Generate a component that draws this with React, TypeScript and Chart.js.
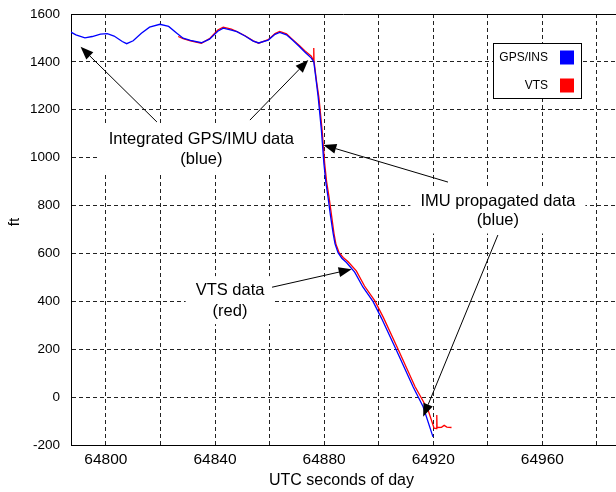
import React, { useEffect, useRef } from 'react';
import { Chart, registerables } from 'chart.js';

Chart.register(...registerables);

// ---- Data (UTC seconds of day, altitude in ft) ----
const blueTime = [
  64787.2, 64789, 64792.3, 64795, 64798, 64800.5, 64803, 64806, 64807.6, 64810,
  64813, 64816, 64819.8, 64823, 64826, 64828.3, 64831, 64835, 64838, 64841,
  64843, 64846, 64848, 64851, 64854, 64856, 64859.5, 64862, 64863.7, 64866.2,
  64868.5, 64871, 64873, 64875.3, 64876.2, 64877, 64877.8, 64879, 64879.9, 64880.6,
  64881.4, 64882.3, 64883.3, 64884, 64885.1, 64886.5, 64888.2, 64891.2, 64894.2, 64897.9,
  64901, 64906.5, 64912.6, 64916.3, 64919.9,
];
const blueFt = [
  1524, 1513, 1500, 1506, 1516, 1518, 1508, 1485, 1476, 1488,
  1520, 1545, 1557, 1548, 1520, 1499, 1490, 1480, 1495, 1528,
  1541, 1533, 1526, 1508, 1487, 1479, 1491, 1515, 1523, 1513,
  1490, 1463, 1440, 1416, 1401, 1330, 1255, 1115, 977, 900,
  837, 760, 684, 640, 603, 580, 562, 522, 460, 400,
  330, 196, 43, -40, -166,
];
const redTime = [
  64826.5, 64828.3, 64831, 64835, 64838, 64841, 64843, 64846, 64848, 64851,
  64854, 64856, 64859.5, 64862, 64863.7, 64866.2, 64868.5, 64871, 64873, 64875.3,
  64876.0, 64876.2, 64876.3, 64877.2, 64878.1, 64879.3, 64880.2, 64880.9, 64881.8, 64882.7,
  64883.6, 64884.3, 64885.5, 64887, 64888.8, 64891.8, 64894.8, 64898.6, 64901.7, 64907.2,
  64913.3, 64918.1, 64920.3, 64921.2, 64921.3, 64921.4, 64923, 64924, 64925, 64926.7,
];
const redFt = [
  1506, 1497, 1488, 1478, 1497, 1533, 1545, 1537, 1527, 1509,
  1488, 1478, 1493, 1518, 1527, 1517, 1493, 1468, 1446, 1424,
  1408, 1458, 1402, 1320, 1250, 1110, 975, 900, 835, 760,
  684, 640, 603, 583, 565, 527, 464, 402, 333, 198,
  44, -54, -130, -131, -75, -127, -126, -118, -125, -127,
];

const seriesLabels = ['GPS/INS', 'VTS'];
const seriesColors = ['#0000ff', '#ff0000'];

const xMin = 64787.2;
const xMax = 64987;
const xGridTicks = [64800, 64820, 64840, 64860, 64880, 64900, 64920, 64940, 64960, 64980];
const xLabelTicks = [64800, 64840, 64880, 64920, 64960];
const yMin = -200;
const yMax = 1600;
const yStep = 200;

const xTitle = 'UTC seconds of day';
const yTitle = 'ft';

// Annotations: text (line centres in data coords) and arrows (tail -> tip in data coords)
const annoTexts = [
  { lines: ['Integrated GPS/IMU data', '(blue)'], t: 64835.0, v: 1076, gap: 19.5 },
  { lines: ['IMU propagated data', '(blue)'], t: 64943.7, v: 819, gap: 19.5 },
  { lines: ['VTS data', '(red)'], t: 64845.5, v: 447, gap: 21 },
];
const annoArrows = [
  { t0: 64818.7, v0: 1149, t1: 64790.7, v1: 1463 },
  { t0: 64852.8, v0: 1157, t1: 64874.2, v1: 1408 },
  { t0: 64925.4, v0: 898, t1: 64879.7, v1: 1053 },
  { t0: 64943.7, v0: 677, t1: 64916.3, v1: -82 },
  { t0: 64860.9, v0: 459, t1: 64890.1, v1: 534 },
];

const FONT = '"Liberation Sans", Arial, Helvetica, sans-serif';

const overlayPlugin = {
  id: 'overlay',
  afterDatasetsDraw(chart: any) {
    const { ctx, chartArea, scales } = chart;
    const xs = scales.x;
    const ys = scales.y;
    ctx.save();

    // top border of axes box
    ctx.strokeStyle = '#000';
    ctx.lineWidth = 1;
    ctx.setLineDash([]);
    ctx.beginPath();
    ctx.moveTo(chartArea.left, Math.round(chartArea.top) + 0.5);
    ctx.lineTo(chartArea.right, Math.round(chartArea.top) + 0.5);
    ctx.stroke();

    // annotation text boxes
    ctx.font = `16.5px ${FONT}`;
    ctx.textAlign = 'center';
    ctx.textBaseline = 'middle';
    for (const a of annoTexts) {
      const cx = xs.getPixelForValue(a.t);
      const cy = ys.getPixelForValue(a.v);
      let w = 0;
      for (const l of a.lines) w = Math.max(w, ctx.measureText(l).width);
      const top = cy - 14;
      const bottom = cy + (a.lines.length - 1) * a.gap + 13;
      ctx.fillStyle = '#fff';
      ctx.fillRect(cx - w / 2 - 10, top, w + 20, bottom - top);
      ctx.fillStyle = '#000';
      a.lines.forEach((l, i) => ctx.fillText(l, cx, cy + i * a.gap));
    }

    // arrows
    ctx.strokeStyle = '#000';
    ctx.fillStyle = '#000';
    ctx.lineWidth = 1;
    for (const ar of annoArrows) {
      const x0 = xs.getPixelForValue(ar.t0);
      const y0 = ys.getPixelForValue(ar.v0);
      const x1 = xs.getPixelForValue(ar.t1);
      const y1 = ys.getPixelForValue(ar.v1);
      const ang = Math.atan2(y1 - y0, x1 - x0);
      const hl = 13;
      const hw = 5;
      const bx = x1 - hl * Math.cos(ang);
      const by = y1 - hl * Math.sin(ang);
      ctx.beginPath();
      ctx.moveTo(x0, y0);
      ctx.lineTo(bx, by);
      ctx.stroke();
      ctx.beginPath();
      ctx.moveTo(x1, y1);
      ctx.lineTo(bx + hw * Math.sin(ang), by - hw * Math.cos(ang));
      ctx.lineTo(bx - hw * Math.sin(ang), by + hw * Math.cos(ang));
      ctx.closePath();
      ctx.fill();
    }

    // legend
    const lx = 493.5, ly = 43.5, lw = 88, lh = 55;
    ctx.fillStyle = '#fff';
    ctx.fillRect(lx, ly, lw, lh);
    ctx.strokeStyle = '#000';
    ctx.strokeRect(lx, ly, lw, lh);
    ctx.font = `12px ${FONT}`;
    ctx.textAlign = 'right';
    ctx.textBaseline = 'middle';
    chart.data.datasets.forEach((ds: any, i: number) => {
      const yy = 57.5 + i * 28;
      ctx.fillStyle = '#000';
      ctx.fillText(ds.label, 548, yy);
      ctx.fillStyle = ds.borderColor;
      ctx.fillRect(560, yy - 7, 14, 14);
    });

    // axis titles
    ctx.fillStyle = '#000';
    ctx.font = `16px ${FONT}`;
    ctx.textAlign = 'center';
    ctx.textBaseline = 'middle';
    ctx.fillText(xTitle, (chartArea.left + chartArea.right) / 2 - 2, 481);
    ctx.save();
    ctx.translate(18.5, 222);
    ctx.rotate(-Math.PI / 2);
    ctx.font = `15px ${FONT}`;
    ctx.textBaseline = 'alphabetic';
    ctx.fillText(yTitle, 0, 0);
    ctx.restore();

    ctx.restore();
  },
};

export default function App() {
  const ref = useRef<HTMLCanvasElement>(null);
  useEffect(() => {
    if (!ref.current) return;
    const chart = new Chart(ref.current, {
      type: 'line',
      data: {
        datasets: [
          {
            label: seriesLabels[0],
            data: blueTime.map((t, i) => ({ x: t, y: blueFt[i] })),
            borderColor: seriesColors[0],
            backgroundColor: seriesColors[0],
            borderWidth: 1.3,
            pointRadius: 0,
            tension: 0,
            fill: false,
          },
          {
            label: seriesLabels[1],
            data: redTime.map((t, i) => ({ x: t, y: redFt[i] })),
            borderColor: seriesColors[1],
            backgroundColor: seriesColors[1],
            borderWidth: 1.3,
            pointRadius: 0,
            tension: 0,
            fill: false,
          },
        ],
      },
      options: {
        responsive: false,
        animation: false,
        devicePixelRatio: 1,
        layout: { padding: { top: 14, left: 0, right: 0, bottom: 0 } },
        plugins: { legend: { display: false }, tooltip: { enabled: false } },
        scales: {
          x: {
            type: 'linear',
            min: xMin,
            max: xMax,
            afterBuildTicks: (s: any) => { s.ticks = xGridTicks.map((v) => ({ value: v })); },
            afterFit: (s: any) => { s.height = 47; s.paddingLeft = 0; s.paddingRight = 0; },
            ticks: {
              autoSkip: false,
              maxRotation: 0,
              padding: 5,
              color: '#000',
              font: { family: FONT, size: 15.5 },
              callback: (v: any) => (xLabelTicks.includes(Math.round(Number(v))) ? String(Math.round(Number(v))) : ''),
            },
            grid: { color: '#222', lineWidth: 1, drawTicks: false },
            border: { display: true, color: '#000', width: 1, dash: [4, 3] },
          },
          y: {
            type: 'linear',
            min: yMin,
            max: yMax,
            afterFit: (s: any) => { s.width = 71; s.paddingTop = 0; s.paddingBottom = 0; },
            ticks: {
              stepSize: yStep,
              padding: 11,
              color: '#000',
              font: { family: FONT, size: 13.5 },
              callback: (v: any) => String(v),
            },
            grid: { color: '#222', lineWidth: 1, drawTicks: false },
            border: { display: true, color: '#000', width: 1, dash: [4, 3] },
          },
        },
      },
      plugins: [overlayPlugin],
    } as any);
    return () => chart.destroy();
  }, []);
  return (
    <div style={{ position: 'absolute', left: 0, top: 0, width: 616, height: 492, background: '#fff' }}>
      <canvas ref={ref} width={616} height={492} style={{ display: 'block' }} />
    </div>
  );
}
